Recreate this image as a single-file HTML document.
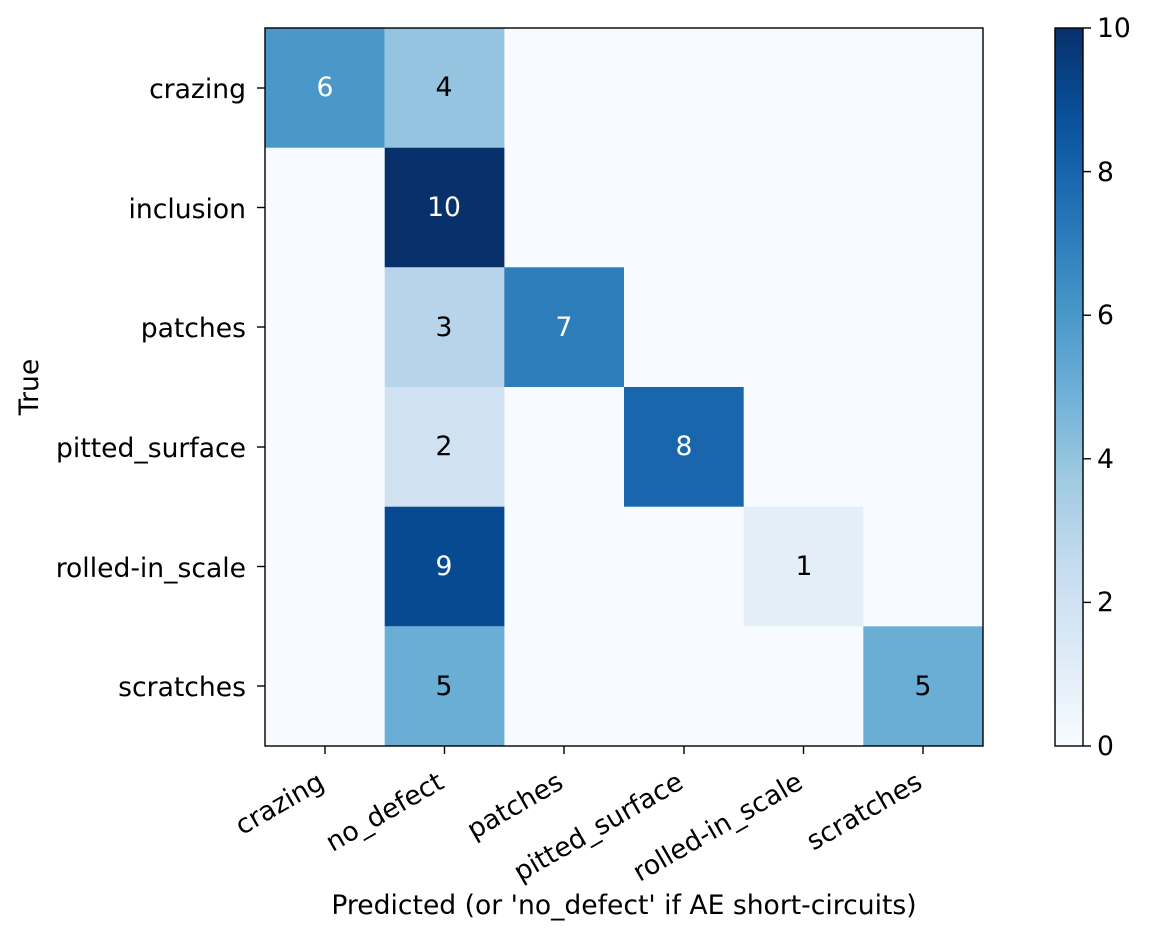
<!DOCTYPE html>
<html><head><meta charset="utf-8"><style>
html,body{margin:0;padding:0;background:#fff;}
svg{display:block;font-family:"DejaVu Sans","Liberation Sans",sans-serif;}
</style></head><body>
<svg width="1162" height="939" viewBox="0 0 1162 939" xmlns="http://www.w3.org/2000/svg">
<defs>
<linearGradient id="cb" x1="0" y1="1" x2="0" y2="0">
<stop offset="0" stop-color="#f7fbff"/>
<stop offset="0.125" stop-color="#deebf7"/>
<stop offset="0.25" stop-color="#c6dbef"/>
<stop offset="0.375" stop-color="#9ecae1"/>
<stop offset="0.5" stop-color="#6baed6"/>
<stop offset="0.625" stop-color="#4292c6"/>
<stop offset="0.75" stop-color="#2171b5"/>
<stop offset="0.875" stop-color="#08519c"/>
<stop offset="1" stop-color="#08306b"/>
</linearGradient>
</defs>
<rect x="265" y="28" width="718" height="718" fill="#f7fbff"/>
<g>
<rect x="265" y="28" width="119.7" height="119.7" fill="#4a98c9"/>
<rect x="384.7" y="28" width="119.7" height="119.7" fill="#94c4df"/>
<rect x="384.7" y="147.7" width="119.7" height="119.7" fill="#08306b"/>
<rect x="384.7" y="267.3" width="119.7" height="119.7" fill="#b7d4ea"/>
<rect x="504.3" y="267.3" width="119.7" height="119.7" fill="#2e7ebc"/>
<rect x="384.7" y="387" width="119.7" height="119.7" fill="#d0e1f2"/>
<rect x="624" y="387" width="119.7" height="119.7" fill="#1966ad"/>
<rect x="384.7" y="506.7" width="119.7" height="119.7" fill="#084a91"/>
<rect x="743.7" y="506.7" width="119.7" height="119.7" fill="#e3eef9"/>
<rect x="384.7" y="626.3" width="119.7" height="119.7" fill="#6aaed6"/>
<rect x="863.3" y="626.3" width="119.7" height="119.7" fill="#6aaed6"/>
</g>
<rect x="265" y="28" width="718" height="718" fill="none" stroke="#000" stroke-width="1.4"/>
<g font-size="26.6" text-anchor="middle">
<text x="325" y="96" fill="#fff">6</text>
<text x="444" y="96" fill="#000">4</text>
<text x="444" y="216" fill="#fff">10</text>
<text x="444" y="336" fill="#000">3</text>
<text x="564" y="336" fill="#fff">7</text>
<text x="444" y="455" fill="#000">2</text>
<text x="684" y="455" fill="#fff">8</text>
<text x="444" y="575" fill="#fff">9</text>
<text x="804" y="575" fill="#000">1</text>
<text x="444" y="695" fill="#000">5</text>
<text x="923" y="695" fill="#000">5</text>
</g>
<g stroke="#000" stroke-width="1.4">
<line x1="257" y1="88" x2="265" y2="88"/><line x1="257" y1="207.5" x2="265" y2="207.5"/>
<line x1="257" y1="327" x2="265" y2="327"/><line x1="257" y1="447" x2="265" y2="447"/>
<line x1="257" y1="566.5" x2="265" y2="566.5"/><line x1="257" y1="686" x2="265" y2="686"/>
<line x1="325" y1="746" x2="325" y2="754"/><line x1="444.5" y1="746" x2="444.5" y2="754"/>
<line x1="564" y1="746" x2="564" y2="754"/><line x1="684" y1="746" x2="684" y2="754"/>
<line x1="803.5" y1="746" x2="803.5" y2="754"/><line x1="923" y1="746" x2="923" y2="754"/>
</g>
<g font-size="26.6" text-anchor="end">
<text x="246" y="98">crazing</text>
<text x="246" y="218">inclusion</text>
<text x="246" y="337">patches</text>
<text x="246" y="457">pitted_surface</text>
<text x="246" y="577">rolled-in_scale</text>
<text x="246" y="696">scratches</text>
</g>
<g font-size="26.6" text-anchor="end">
<text transform="translate(326,787) rotate(-30)">crazing</text>
<text transform="translate(445.5,787) rotate(-30)">no_defect</text>
<text transform="translate(565,787) rotate(-30)">patches</text>
<text transform="translate(685,787) rotate(-30)">pitted_surface</text>
<text transform="translate(804.5,787) rotate(-30)">rolled-in_scale</text>
<text transform="translate(924,787) rotate(-30)">scratches</text>
</g>
<text x="624" y="914" font-size="26.6" text-anchor="middle">Predicted (or 'no_defect' if AE short-circuits)</text>
<text transform="translate(38,387) rotate(-90)" font-size="26.6" text-anchor="middle">True</text>
<rect x="1055" y="28" width="28" height="718" fill="url(#cb)"/>
<rect x="1055" y="28" width="28" height="718" fill="none" stroke="#000" stroke-width="1.4"/>
<g stroke="#000" stroke-width="1.4">
<line x1="1083" y1="746" x2="1091" y2="746"/><line x1="1083" y1="602.4" x2="1091" y2="602.4"/>
<line x1="1083" y1="458.8" x2="1091" y2="458.8"/><line x1="1083" y1="315.2" x2="1091" y2="315.2"/>
<line x1="1083" y1="171.6" x2="1091" y2="171.6"/><line x1="1083" y1="28" x2="1091" y2="28"/>
</g>
<g font-size="26.6">
<text x="1097" y="755">0</text><text x="1097" y="611">2</text><text x="1097" y="468">4</text>
<text x="1097" y="324">6</text><text x="1097" y="181">8</text><text x="1097" y="37">10</text>
</g>
</svg>
</body></html>
